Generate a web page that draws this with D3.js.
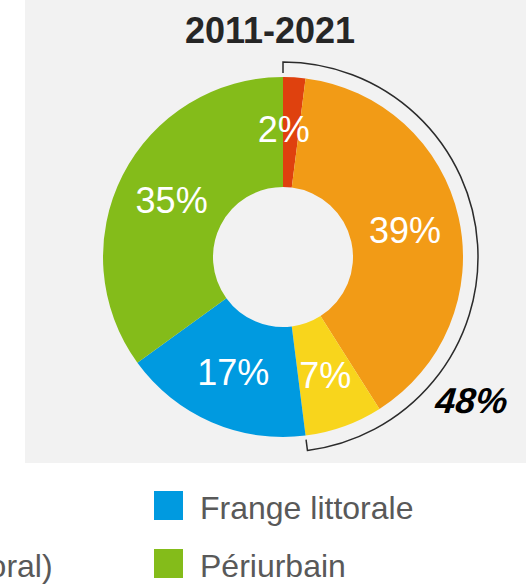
<!DOCTYPE html>
<html>
<head>
<meta charset="utf-8">
<script src="https://cdn.jsdelivr.net/npm/d3@7"></script>
<style>
  html, body { margin: 0; padding: 0; background: #ffffff; }
  svg { display: block; }
  text { font-family: "Liberation Sans", Arial, sans-serif; }
</style>
</head>
<body>
<svg id="chart" width="526" height="584"></svg>
<script>
// Répartition 2011-2021 par type d'espace
const title = "2011-2021";
const categories = ["Rural", "Pôle urbain (hors littoral)", "Communes touristiques", "Frange littorale", "Périurbain"];
const shares = [2, 39, 7, 17, 35];
const colors = ["#df410e", "#f29b16", "#f8d51c", "#009ae0", "#84bc1a"];
// Slices grouped by the outer bracket (first three)
const bracketGroup = [0, 1, 2];
// Legend entries shown in this panel, with their column / row
const legendItems = [1, 3, 4];
const legendCol = [0, 0, 0, 1, 1];
const legendRow = [0, 1, 2, 0, 1];

const svg = d3.select("#chart");
const W = 526, H = 584;

// Panel
svg.append("rect").attr("x", 25).attr("y", 0).attr("width", W - 25).attr("height", 463)
  .attr("fill", "#f2f2f2");

// Title
svg.append("text").attr("x", 270).attr("y", 43)
  .attr("text-anchor", "middle")
  .attr("font-size", 36).attr("font-weight", "bold").attr("fill", "#262626")
  .text(title);

const cx = 283, cy = 257;
const rOuter = 180, rInner = 70;
const g = svg.append("g").attr("transform", `translate(${cx},${cy})`);

const pie = d3.pie().sort(null).value(d => d);
const arcs = pie(shares);
const arc = d3.arc().innerRadius(rInner).outerRadius(rOuter);

g.selectAll("path.slice").data(arcs).join("path")
  .attr("class", "slice")
  .attr("d", arc)
  .attr("fill", (d, i) => colors[i]);

// Percent labels at slice centroids (small slices nudged a little)
g.selectAll("text.pct").data(arcs).join("text")
  .attr("class", "pct")
  .attr("x", d => arc.centroid(d)[0] - (d.value < 5 ? 7 : 0))
  .attr("y", d => arc.centroid(d)[1] - (d.value < 5 ? 3 : 0))
  .attr("dy", "0.36em")
  .attr("text-anchor", "middle")
  .attr("font-size", 36).attr("fill", "#ffffff")
  .text(d => d.value + "%");

// Bracket around the grouped slices
const a0 = arcs[bracketGroup[0]].startAngle;
const a1 = arcs[bracketGroup[bracketGroup.length - 1]].endAngle;
const rB = 195, rT = 184;
const pt = (r, a) => [r * Math.sin(a), -r * Math.cos(a)];
const p = d3.path();
p.moveTo(...pt(rT, a0));
p.lineTo(...pt(rB, a0));
p.arc(0, 0, rB, a0 - Math.PI / 2, a1 - Math.PI / 2, false);
p.lineTo(...pt(rT, a1));
g.append("path").attr("d", p.toString())
  .attr("fill", "none").attr("stroke", "#2b2b2b").attr("stroke-width", 1.5);

const groupTotal = d3.sum(bracketGroup, i => shares[i]);
svg.append("text").attr("x", 471).attr("y", 413)
  .attr("text-anchor", "middle")
  .attr("font-size", 36).attr("font-style", "italic").attr("font-weight", "bold")
  .attr("fill", "#000000")
  .attr("transform", "skewX(-6)")
  .attr("dx", 43)
  .text(groupTotal + "%");

// Legend
const colX = [-342, 154];
const rowY = [491, 549, 607];
const box = 29;
const leg = svg.append("g");
legendItems.forEach(i => {
  const x = colX[legendCol[i]], y = rowY[legendRow[i]];
  leg.append("rect").attr("x", x).attr("y", y).attr("width", box).attr("height", box)
    .attr("fill", colors[i]);
  leg.append("text").attr("x", x + 46).attr("y", y + 28)
    .attr("font-size", 32).attr("fill", "#595959")
    .text(categories[i]);
});
</script>
</body>
</html>
